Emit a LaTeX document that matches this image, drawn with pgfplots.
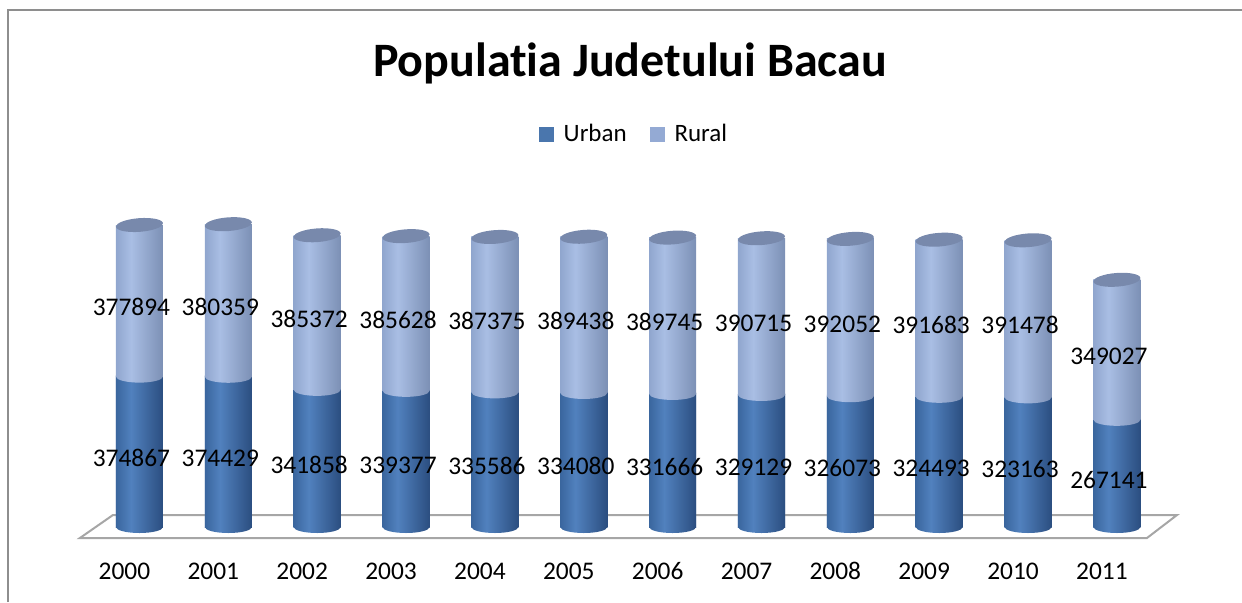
\documentclass[border=0pt]{standalone}
\usepackage{pgfplots}
\pgfplotsset{compat=1.18}
\usepackage{pgfplotstable}
\usepackage{fontspec}
\setmainfont{Carlito}[Ligatures={NoCommon,NoRare,NoContextual}]

\definecolor{uEdge}{HTML}{2B4E80}
\definecolor{uLeft}{HTML}{3A669E}
\definecolor{uMid}{HTML}{5181BE}
\definecolor{rEdge}{HTML}{7C90B5}
\definecolor{rLeft}{HTML}{90A6CE}
\definecolor{rMid}{HTML}{A9BEE4}
\definecolor{urbanL}{HTML}{4A76AD}
\definecolor{ruralL}{HTML}{94AAD4}
\definecolor{topC}{HTML}{7889AC}
\definecolor{floorC}{HTML}{A6A6A6}
\definecolor{frameC}{HTML}{8E8E8E}

\pgfdeclarehorizontalshading{urbanshade}{100bp}{color(0bp)=(uLeft); color(25bp)=(uLeft); color(41bp)=(uMid); color(75bp)=(uEdge); color(100bp)=(uEdge)}
\pgfdeclarehorizontalshading{ruralshade}{100bp}{color(0bp)=(rLeft); color(25bp)=(rLeft); color(41bp)=(rMid); color(75bp)=(rEdge); color(100bp)=(rEdge)}

\pgfdeclareplotmark{topell}{%
  \pgfpathellipse{\pgfpointorigin}{\pgfqpoint{11.75pt}{0.9pt}}{\pgfqpoint{-0.3pt}{3.4pt}}%
  \pgfusepathqfill}
\pgfdeclareplotmark{botell}{%
  \path[draw=none, shade, shading=urbanshade] (-11.75pt,0pt) arc[start angle=180, end angle=360, x radius=11.75pt, y radius=3pt] -- cycle;}
\pgfdeclareplotmark{halfell}{%
  \path[draw=none, shade, shading=ruralshade] (-11.75pt,0.8pt) -- (-11.75pt,0pt) arc[start angle=180, end angle=360, x radius=11.75pt, y radius=3pt] -- (11.75pt,0.8pt) -- cycle;}

\pgfplotstableread{
i urban rural
0 374867 377894
1 374429 380359
2 341858 385372
3 339377 385628
4 335586 387375
5 334080 389438
6 331666 389745
7 329129 390715
8 326073 392052
9 324493 391683
10 323163 391478
11 267141 349027
}\datatable

\tikzset{lbl/.style={anchor=base, xshift=-4pt, yshift=-7.5pt, font=\fontsize{12.7}{15}\selectfont, text=black}}
\pgfplotsset{
  base/.style={
    at={(25.3pt,27.47pt)}, anchor=south west,
    scale only axis, width=577.6pt, height=180.54pt,
    xmin=-1, xmax=12, ymin=-50000, ymax=850000,
    clip=false,
  },
}

\begin{document}
\begin{tikzpicture}
\useasboundingbox (0,0) rectangle (621pt,301pt);
\draw[frameC, line width=1pt] (4pt,0pt) -- (4pt,296pt) -- (621pt,296pt);
\node[font=\fontsize{24}{28}\selectfont\bfseries] at (315pt,269.5pt) {Populatia Judetului Bacau};

% floor and cylinder bottoms
\begin{axis}[base, hide axis]
\draw[floorC, line width=1pt] (axis cs:-0.670,-27418) -- (axis cs:11.338,-27418) -- (axis cs:11.676,29910) -- (axis cs:-0.298,29910) -- cycle;
\addplot[only marks, mark=botell, mark options={draw=none}] table[x=i, y expr=0] {\datatable};
\end{axis}

% bars: each cylinder body drawn on its own so that it has its own shading
\begin{axis}[base, ybar, bar width=0.529,
  axis line style={draw=none}, major tick length=0pt,
  ytick=\empty, xtick={0,...,11},
  xticklabels={2000,2001,2002,2003,2004,2005,2006,2007,2008,2009,2010,2011},
  xticklabel style={anchor=base, yshift=-16.25pt, xshift=-7.5pt, font=\fontsize{12.7}{15}\selectfont},
]
\pgfplotsinvokeforeach{0,...,11}{
  \addplot[draw=none, shade, shading=ruralshade, bar shift=0pt, restrict x to domain=#1:#1]
    table[x=i, y expr=\thisrow{urban}+\thisrow{rural}] {\datatable};
}
\pgfplotsinvokeforeach{0,...,11}{
  \addplot[draw=none, shade, shading=urbanshade, bar shift=0pt, restrict x to domain=#1:#1]
    table[x=i, y=urban] {\datatable};
}
\end{axis}

% tops, boundaries, labels, legend
\begin{axis}[base, hide axis,
  legend style={draw=none, fill=none, at={(0.5059,1.144)}, anchor=center,
    font=\fontsize{12.5}{15}\selectfont, legend columns=2,
    /tikz/every even column/.append style={column sep=9.5pt},
    /tikz/every odd column/.append style={column sep=3pt}},
]
\addlegendimage{legend image code/.code={\fill[urbanL] (0pt,-3.5pt) rectangle (7pt,3.5pt);}}
\addlegendimage{legend image code/.code={\fill[ruralL] (0pt,-3.5pt) rectangle (7pt,3.5pt);}}
\addplot[only marks, mark=halfell, mark options={draw=none}] table[x=i, y=urban] {\datatable};
\addplot[only marks, mark=topell, mark options={fill=topC, draw=none}] table[x=i, y expr=\thisrow{urban}+\thisrow{rural}] {\datatable};
\addplot[draw=none, mark=none, point meta=explicit symbolic, nodes near coords,
  every node near coord/.append style={lbl}]
  table[x=i, y expr=\thisrow{urban}/2, meta=urban] {\datatable};
\addplot[draw=none, mark=none, point meta=explicit symbolic, nodes near coords,
  every node near coord/.append style={lbl}]
  table[x=i, y expr=\thisrow{urban}+\thisrow{rural}/2, meta=rural] {\datatable};
\legend{Urban,Rural}
\end{axis}
\end{tikzpicture}
\end{document}
